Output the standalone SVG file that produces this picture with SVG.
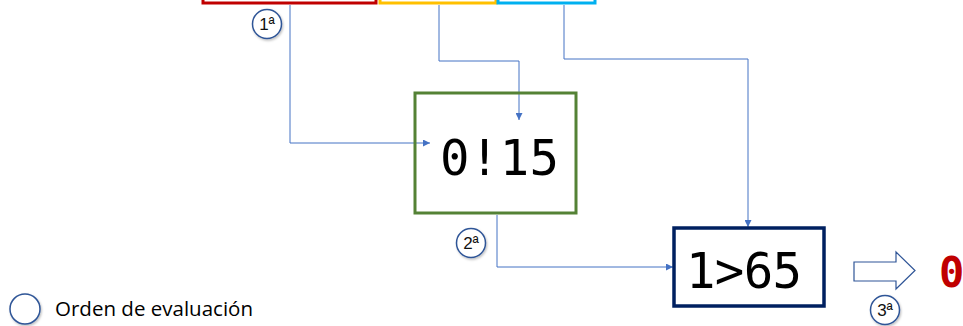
<svg xmlns="http://www.w3.org/2000/svg" width="963" height="326" viewBox="0 0 963 326">
  <style>
    .conn { fill: none; stroke: #4472C4; stroke-width: 1; }
    .badge circle { fill: #fff; stroke: #2F5597; stroke-width: 1.5; }
    .badge text { font-family: "Liberation Sans", Arial, sans-serif; font-size: 17px; text-anchor: middle; fill: #111; }
    .legend text { font-family: "Open Sans", "Liberation Sans", sans-serif; fill: #000; }
    .expr { font-family: "DejaVu Sans Mono", "Liberation Mono", monospace; font-size: 49px; fill: #000; }
  </style>
  <defs>
    <marker id="tip" viewBox="0 0 10 10" refX="10" refY="5" markerWidth="7" markerHeight="7" markerUnits="userSpaceOnUse" orient="auto">
      <path d="M0,0 L10,5 L0,10 z" fill="#4472C4"/>
    </marker>
    <filter id="shade" x="-30%" y="-30%" width="160%" height="160%">
      <feDropShadow dx="1" dy="1.5" stdDeviation="1" flood-color="#000" flood-opacity="0.25"/>
    </filter>
  </defs>
  <rect width="963" height="326" fill="#fff"/>

  <!-- operand boxes along the top edge -->
  <g id="op-a"><rect x="203" y="-20" width="173" height="23" fill="none" stroke="#C00000" stroke-width="3"/></g>
  <g id="op-b"><rect x="380" y="-20" width="116" height="23" fill="none" stroke="#FFC000" stroke-width="3"/></g>
  <g id="op-c"><rect x="498" y="-20" width="97" height="23" fill="none" stroke="#00B0F0" stroke-width="3"/></g>

  <!-- connectors -->
  <g id="connectors">
    <polyline class="conn" points="290,5 290,143 430,143" marker-end="url(#tip)"/>
    <polyline class="conn" points="439,5 439,61 519,61 519,120" marker-end="url(#tip)"/>
    <polyline class="conn" points="564,5 564,59 748,59 748,227" marker-end="url(#tip)"/>
    <polyline class="conn" points="497,215 497,267 673,267" marker-end="url(#tip)"/>
  </g>

  <!-- first comparison -->
  <g id="cmp-1">
    <rect x="415" y="93" width="161" height="120" fill="none" stroke="#548235" stroke-width="3"/>
    <text class="expr" x="440" y="175" textLength="119" lengthAdjust="spacing">0!15</text>
  </g>

  <!-- second comparison -->
  <g id="cmp-2">
    <rect x="674" y="228" width="150" height="78" fill="none" stroke="#002060" stroke-width="3.5"/>
    <text class="expr" x="686" y="288" textLength="116" lengthAdjust="spacing">1&gt;65</text>
  </g>

  <!-- result arrow -->
  <g id="result-arrow">
    <path d="M854,262 L896,262 L896,252 L915,270.5 L896,289 L896,281 L854,281 Z" fill="#fff" stroke="#2F5597" stroke-width="1.2"/>
  </g>

  <!-- result -->
  <g id="result">
    <text x="939" y="287" font-family="DejaVu Sans Mono, Liberation Mono, monospace" font-size="42" font-weight="bold" fill="#C00000">0</text>
  </g>

  <!-- evaluation order badges -->
  <g id="step-1" class="badge">
    <circle cx="267" cy="24" r="14.5" filter="url(#shade)"/>
    <text x="267" y="30">1ª</text>
  </g>
  <g id="step-2" class="badge">
    <circle cx="471" cy="243" r="14.5" filter="url(#shade)"/>
    <text x="471" y="249">2ª</text>
  </g>
  <g id="step-3" class="badge">
    <circle cx="885" cy="310" r="14.5" filter="url(#shade)"/>
    <text x="885" y="316">3ª</text>
  </g>

  <!-- legend -->
  <g id="legend" class="legend">
    <circle cx="25" cy="309" r="15" fill="#fff" stroke="#2F5597" stroke-width="1.5" filter="url(#shade)"/>
    <text x="55" y="316" font-size="20" textLength="198" lengthAdjust="spacingAndGlyphs">Orden de evaluación</text>
  </g>
</svg>
